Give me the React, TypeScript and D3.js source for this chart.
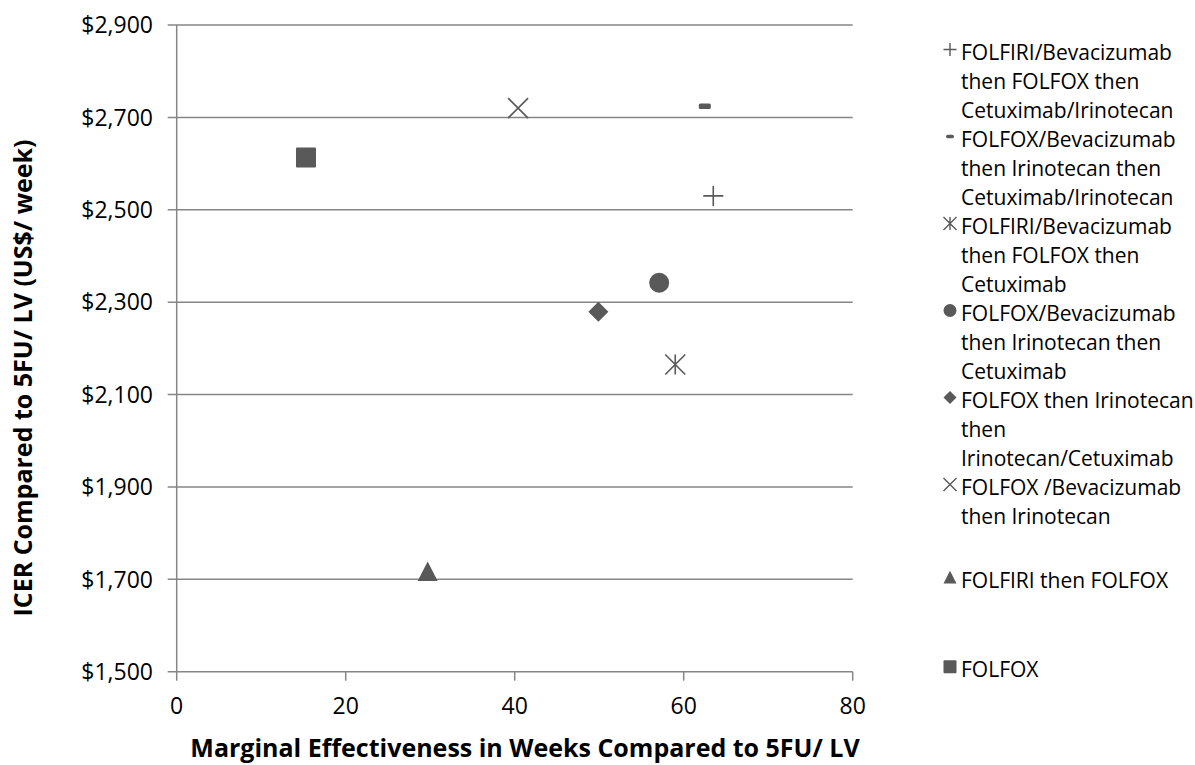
import React from "react";
import * as d3 from "d3";

// Strategy names (legend text, with manual line breaks)
const strategies: string[][] = [
  ["FOLFIRI/Bevacizumab", "then FOLFOX then", "Cetuximab/Irinotecan"],
  ["FOLFOX/Bevacizumab", "then Irinotecan then", "Cetuximab/Irinotecan"],
  ["FOLFIRI/Bevacizumab", "then FOLFOX then", "Cetuximab"],
  ["FOLFOX/Bevacizumab", "then Irinotecan then", "Cetuximab"],
  ["FOLFOX then Irinotecan", "then", "Irinotecan/Cetuximab"],
  ["FOLFOX /Bevacizumab", "then Irinotecan"],
  ["FOLFIRI then FOLFOX"],
  ["FOLFOX"],
];
const markerKinds = ["plus", "dash", "asterisk", "circle", "diamond", "cross", "triangle", "square"];
// Marginal effectiveness (weeks) and ICER (US$/week) vs 5FU/LV
const effectWeeks = [63.5, 62.5, 59.0, 57.1, 49.9, 40.4, 29.7, 15.3];
const icerValues = [2530, 2724, 2165, 2342, 2279, 2720, 1717, 2613];

const xTicks = [0, 20, 40, 60, 80];
const yTicks = [1500, 1700, 1900, 2100, 2300, 2500, 2700, 2900];

const W = 1195;
const H = 765;
const FONT = "'Open Sans', sans-serif";
const MARK = "#595959";
const AXIS = "#868686";

function Marker({ kind, x, y, s }: { kind: string; x: number; y: number; s: number }) {
  const h = s / 2;
  const sw = s > 14 ? 1.6 : 1.4;
  switch (kind) {
    case "plus":
      return <path d={`M${x - h},${y}H${x + h}M${x},${y - h}V${y + h}`} stroke={MARK} strokeWidth={sw} fill="none" />;
    case "cross":
      return (
        <path d={`M${x - h},${y - h}L${x + h},${y + h}M${x - h},${y + h}L${x + h},${y - h}`} stroke={MARK} strokeWidth={sw} fill="none" />
      );
    case "asterisk":
      return (
        <path
          d={`M${x - h},${y - h}L${x + h},${y + h}M${x - h},${y + h}L${x + h},${y - h}M${x},${y - h}V${y + h}`}
          stroke={MARK}
          strokeWidth={sw}
          fill="none"
        />
      );
    case "dash":
      return <rect x={x - s * 0.3} y={y - s * 0.14} width={s * 0.6} height={s * 0.28} rx={1.5} fill={MARK} />;
    case "circle":
      return <circle cx={x} cy={y} r={h} fill={MARK} />;
    case "diamond":
      return <path d={`M${x},${y - h}L${x + h},${y}L${x},${y + h}L${x - h},${y}Z`} fill={MARK} />;
    case "triangle":
      return <path d={`M${x},${y - h}L${x + h},${y + h * 0.95}L${x - h},${y + h * 0.95}Z`} fill={MARK} />;
    case "square":
      return <rect x={x - h} y={y - h} width={s} height={s} rx={1} fill={MARK} />;
    default:
      return null;
  }
}

export default function App() {
  const x = d3.scaleLinear().domain([0, 80]).range([176.7, 852.7]);
  const y = d3.scaleLinear().domain([1500, 2900]).range([671.7, 25]);
  const fmt = (v: number) => "$" + d3.format(",")(v);

  // legend layout: stacked lines for the first six entries, then two spaced entries
  const lineH = 29;
  const firstLineY = 52.5;
  const legendY: number[] = [];
  let row = 0;
  strategies.forEach((lines, i) => {
    if (i < 6) {
      legendY.push(firstLineY + row * lineH);
      row += lines.length;
    }
  });
  legendY.push(y(1700) + 1, y(1500) - 2);

  return (
    <svg width={W} height={H} style={{ position: "absolute", left: 0, top: 0, background: "#fff" }} fontFamily={FONT}>
      {/* horizontal gridlines */}
      {yTicks.map((t) => (
        <line key={"g" + t} x1={x(0) - 9} x2={x(80)} y1={y(t)} y2={y(t)} stroke={AXIS} strokeWidth={1.5} />
      ))}
      {/* y axis */}
      <line x1={x(0)} x2={x(0)} y1={y(2900)} y2={y(1500)} stroke={AXIS} strokeWidth={1.5} />
      {/* x ticks */}
      {xTicks.map((t) => (
        <line key={"xt" + t} x1={x(t)} x2={x(t)} y1={y(1500)} y2={y(1500) + 9} stroke={AXIS} strokeWidth={1.5} />
      ))}
      {/* y tick labels */}
      {yTicks.map((t) => (
        <text key={"yl" + t} x={153} y={y(t)} dy="0.36em" textAnchor="end" fontSize={23} fill="#000">
          {fmt(t)}
        </text>
      ))}
      {/* x tick labels */}
      {xTicks.map((t) => (
        <text key={"xl" + t} x={x(t)} y={706} dy="0.36em" textAnchor="middle" fontSize={23} fill="#000">
          {t}
        </text>
      ))}
      {/* axis titles */}
      <text x={525} y={757} textAnchor="middle" fontSize={25} fontWeight="bold" fill="#000">
        Marginal Effectiveness in Weeks Compared to 5FU/ LV
      </text>
      <text transform={`translate(32,${378}) rotate(-90)`} textAnchor="middle" fontSize={25} fontWeight="bold" fill="#000">
        ICER Compared to 5FU/ LV (US$/ week)
      </text>
      {/* data markers */}
      {markerKinds.map((k, i) => (
        <Marker key={"m" + i} kind={k} x={x(effectWeeks[i])} y={y(icerValues[i])} s={20} />
      ))}
      {/* legend */}
      {strategies.map((lines, i) => (
        <g key={"lg" + i}>
          <Marker kind={markerKinds[i]} x={950} y={legendY[i] - 3} s={13} />
          {lines.map((ln, j) => (
            <text key={j} x={961} y={legendY[i] + j * lineH} dy="0.36em" fontSize={21} fill="#000">
              {ln}
            </text>
          ))}
        </g>
      ))}
    </svg>
  );
}
